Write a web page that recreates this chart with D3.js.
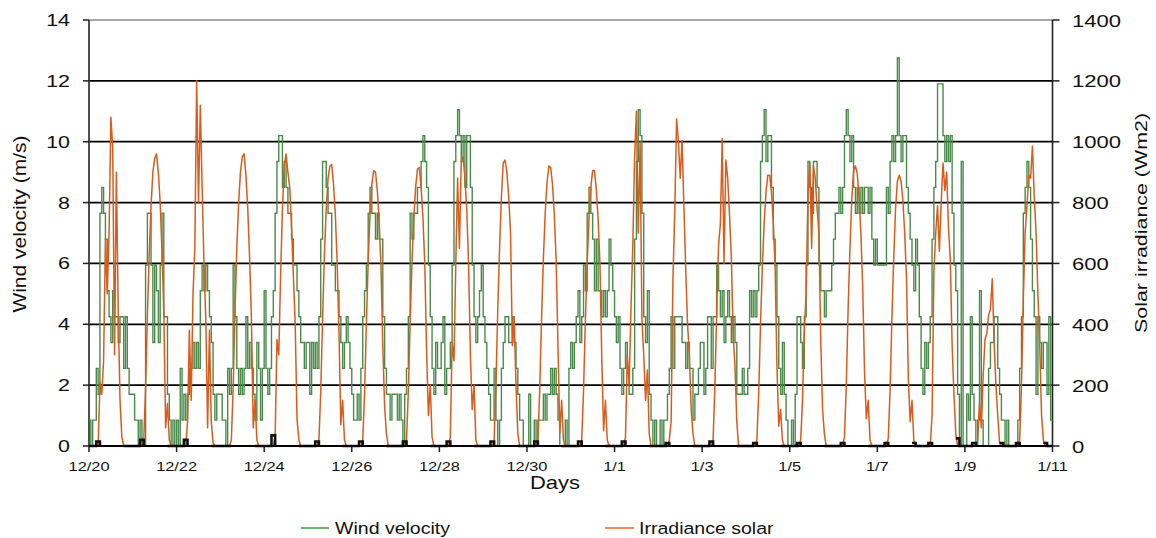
<!DOCTYPE html>
<html><head><meta charset="utf-8">
<script src="https://cdn.jsdelivr.net/npm/d3@7"></script>
<style>
body{margin:0;background:#fff}
svg{display:block}
text{font-family:"Liberation Sans",Arial,sans-serif;fill:#111}
</style>
</head><body>
<svg id="chart" width="1156" height="538"></svg>
<script>
// ---- data (hourly, 12/20 00:00 -> 1/11 00:00) ----
const dateTickLabels = ["12/20","12/22","12/24","12/26","12/28","12/30","1/1","1/3","1/5","1/7","1/9","1/11"];
const windTicks = [0,2,4,6,8,10,12,14];
const solarTicks = [0,200,400,600,800,1000,1200,1400];

const windSpeed = [
 0.85,0,0.85,0.85,2.55,1.7,7.65,8.5,7.65,6.8,5.1,4.25,3.4,5.1,4.25,4.25,3.4,4.25,4.25,2.55,4.25,2.55,1.7,1.7,
 1.7,0.85,0.85,0,0.85,0,0,5.95,7.65,7.65,5.95,3.4,5.95,5.1,3.4,5.95,7.65,4.25,4.25,1.7,0.85,0,0.85,0,
 0.85,0,2.55,0.85,1.7,0.85,1.7,2.55,2.55,3.4,2.55,3.4,2.55,5.1,5.95,5.1,5.95,5.1,4.25,3.4,1.7,0.85,1.7,1.7,
 1.7,0.85,0.85,0,2.55,1.7,2.55,5.95,4.25,2.55,1.7,2.55,1.7,2.55,4.25,2.55,3.4,2.55,1.7,0.85,3.4,2.55,0.85,2.55,
 5.1,2.55,1.7,2.55,4.25,5.1,7.65,9.35,10.2,10.2,8.5,9.35,8.5,7.65,7.65,6.8,5.95,5.95,5.1,4.25,3.4,3.4,2.55,3.4,
 3.4,1.7,3.4,2.55,3.4,2.55,4.25,6.8,9.35,9.35,8.5,7.65,7.65,5.95,5.95,5.1,5.1,4.25,3.4,2.55,3.4,4.25,3.4,2.55,
 1.7,0.85,0.85,1.7,0.85,2.55,4.25,5.1,5.95,7.65,8.5,7.65,7.65,6.8,7.65,6.8,6.8,4.25,2.55,1.7,1.7,0.85,1.7,1.7,
 1.7,0.85,1.7,0.85,0,1.7,2.55,4.25,7.65,6.8,7.65,7.65,8.5,8.5,9.35,10.2,9.35,8.5,5.95,4.25,2.55,1.7,3.4,2.55,
 2.55,3.4,4.25,1.7,2.55,2.55,3.4,5.95,9.35,10.2,11.05,10.2,9.35,10.2,8.5,10.2,10.2,8.5,5.95,4.25,3.4,4.25,5.1,5.95,
 4.25,3.4,2.55,1.7,0.85,0.85,2.55,0.85,0,0.85,2.55,3.4,4.25,4.25,3.4,3.4,4.25,3.4,2.55,1.7,0.85,0.85,0,0,
 0,1.7,0,0,0.85,0,0.85,0.85,0.85,1.7,0.85,1.7,1.7,2.55,1.7,2.55,1.7,0.85,0,0,0,0.85,0,2.55,
 3.4,2.55,3.4,4.25,5.1,3.4,4.25,5.95,5.1,7.65,8.5,7.65,6.8,5.1,6.8,5.1,5.1,4.25,5.1,4.25,5.1,6.8,5.95,5.1,
 4.25,3.4,4.25,2.55,1.7,2.55,3.4,2.55,1.7,1.7,2.55,6.8,9.35,11.05,10.2,7.65,4.25,3.4,5.1,1.7,0.85,0,0.85,0,
 0,0.85,0,0.85,0.85,1.7,2.55,4.25,2.55,4.25,4.25,4.25,4.25,3.4,3.4,2.55,3.4,2.55,2.55,0.85,1.7,1.7,2.55,3.4,
 3.4,1.7,2.55,4.25,4.25,2.55,4.25,4.25,5.95,5.1,4.25,5.1,3.4,4.25,5.1,4.25,3.4,4.25,3.4,1.7,1.7,1.7,2.55,1.7,
 1.7,2.55,5.1,4.25,5.1,4.25,5.1,5.95,9.35,10.2,11.05,9.35,10.2,10.2,8.5,6.8,5.95,4.25,2.55,1.7,3.4,1.7,0.85,0,
 0,0.85,0,1.7,4.25,4.25,3.4,2.55,4.25,5.95,9.35,8.5,7.65,9.35,9.35,8.5,5.95,5.1,5.1,4.25,5.1,5.1,5.1,5.95,
 6.8,7.65,7.65,8.5,7.65,8.5,10.2,11.05,10.2,9.35,10.2,8.5,7.65,8.5,7.65,8.5,7.65,8.5,8.5,7.65,8.5,6.8,5.95,6.8,
 5.95,5.95,5.95,5.95,5.95,8.5,7.65,9.35,10.2,9.35,10.2,12.75,10.2,9.35,10.2,10.2,8.5,7.65,6.8,5.95,5.1,6.8,5.95,4.25,
 2.55,1.7,3.4,2.55,3.4,4.25,6.8,8.5,9.35,11.9,11.9,11.9,10.2,9.35,10.2,9.35,10.2,7.65,5.95,5.1,1.7,0,9.35,0,
 0,1.7,0.85,4.25,1.7,0.85,0,0.85,5.1,0.85,0,0,0,2.55,3.4,3.4,4.25,4.25,2.55,1.7,0.85,0.85,0,0.85,
 0,0,0,0,0,0.85,2.55,4.25,7.65,8.5,9.35,8.5,6.8,5.1,4.25,1.7,4.25,3.4,2.55,3.4,3.4,1.7,4.25,0.85,
 0.85
];

const solarIrradiance = [
 0,0,0,0,0,0,210,170,280,680,500,700,1080,980,300,900,450,150,30,0,0,0,0,0,
 0,0,0,0,0,0,20,190,430,630,790,900,945,960,900,800,640,440,60,140,20,0,0,0,
 0,0,0,0,0,0,80,380,150,500,650,1200,800,1120,850,600,420,60,380,80,10,0,0,0,
 0,0,0,0,0,0,20,190,440,650,800,900,950,960,890,780,620,420,60,150,20,0,0,0,
 0,0,0,0,0,0,30,350,300,560,780,920,960,900,850,720,560,400,90,20,0,0,0,0,
 0,0,0,0,0,0,20,180,420,630,780,880,920,925,860,760,600,370,70,150,20,0,0,0,
 0,0,0,0,0,0,20,170,400,610,760,860,905,900,840,740,590,330,130,40,0,0,0,0,
 0,0,0,0,0,0,20,180,410,605,750,850,910,915,850,750,600,310,100,200,30,0,0,0,
 0,0,0,0,0,0,30,340,280,600,880,650,940,950,880,780,600,300,120,200,20,0,0,0,
 0,0,0,0,0,0,20,200,450,650,820,930,940,900,820,700,330,420,200,40,0,0,0,0,
 0,0,0,0,0,0,20,185,420,615,765,865,920,915,860,760,610,330,40,150,20,0,0,0,
 0,0,0,0,0,0,20,180,410,600,750,850,905,905,845,745,600,290,50,150,20,0,0,0,
 0,0,0,0,0,0,30,300,200,450,660,950,1100,700,1000,420,300,150,250,40,0,0,0,0,
 0,0,0,0,0,0,20,80,550,770,1075,1000,880,1005,790,580,400,300,120,40,0,0,0,0,
 0,0,0,0,0,0,20,200,450,660,730,1010,600,940,880,760,620,370,260,80,0,0,0,0,
 0,0,0,0,0,0,20,175,400,590,735,835,890,890,835,735,590,260,65,120,20,0,0,0,
 0,0,0,0,0,0,20,150,380,500,830,930,650,920,880,780,700,350,120,40,0,0,0,0,
 0,0,0,0,0,0,30,200,450,650,810,905,920,895,820,700,520,240,90,150,20,0,0,0,
 0,0,0,0,0,0,25,185,420,620,780,870,890,870,810,700,550,220,80,150,20,0,0,0,
 0,0,0,0,0,0,100,570,700,790,640,800,930,840,900,720,610,330,170,40,0,0,0,0,
 0,0,0,0,0,0,0,20,140,60,230,350,370,430,450,550,340,200,100,10,0,0,0,0,
 0,0,0,0,0,0,20,200,480,700,790,890,880,985,820,700,500,330,100,20,0,0,0,0,
 0
];

// small black night-time markers (W/m2) at start / end of each night
const nightStartBump = [0,0,0,0,0,0,0,0,0,0,0,0,0,0,0,0,0,0,0,10,25,10,10];
const nightEndBump   = [15,20,20,0,35,15,15,15,15,15,15,15,15,10,15,10,10,10,10,10,10,10,0];

// ---- layout ----
const L = 89, R = 1052.5, T = 20, B = 446;
const totalHours = windSpeed.length - 1;

const svg = d3.select("#chart");
const x = d3.scaleLinear().domain([0, totalHours]).range([L, R]);
const yW = d3.scaleLinear().domain([0, 14]).range([B, T]);
const yS = d3.scaleLinear().domain([0, 1400]).range([B, T]);

function label(g, px, py, s, size, sx, anchor, rot) {
  g.append("text")
   .attr("transform", `translate(${px},${py})` + (rot ? ` rotate(${rot})` : "") + ` scale(${sx},1)`)
   .attr("text-anchor", anchor)
   .style("font-size", size + "px")
   .text(s);
}

// gridlines
const grid = svg.append("g");
windTicks.forEach(v => {
  grid.append("line")
    .attr("x1", L).attr("x2", R).attr("y1", yW(v)).attr("y2", yW(v))
    .attr("stroke", v === 14 ? "#8a8a8a" : "#000")
    .attr("stroke-width", v === 14 ? 1.5 : 1.8);
});

// axes lines
svg.append("line").attr("x1", L).attr("x2", L).attr("y1", T).attr("y2", B).attr("stroke", "#222").attr("stroke-width", 1.6);
svg.append("line").attr("x1", R).attr("x2", R).attr("y1", T).attr("y2", B).attr("stroke", "#222").attr("stroke-width", 1.6);

// left ticks and labels
const axL = svg.append("g");
windTicks.forEach(v => {
  axL.append("line").attr("x1", L - 6).attr("x2", L).attr("y1", yW(v)).attr("y2", yW(v)).attr("stroke", "#222").attr("stroke-width", 1.5);
  label(axL, 70, yW(v) + 6, String(v), 16.5, 1.3, "end");
});
// right ticks and labels
const axR = svg.append("g");
solarTicks.forEach(v => {
  axR.append("line").attr("x1", R).attr("x2", R + 7).attr("y1", yS(v)).attr("y2", yS(v)).attr("stroke", "#222").attr("stroke-width", 1.5);
  label(axR, 1072, yS(v) + 6.5, String(v), 17, 1.3, "start");
});
// bottom ticks and labels
const axB = svg.append("g");
dateTickLabels.forEach((s, i) => {
  const px = x(i * 48);
  axB.append("line").attr("x1", px).attr("x2", px).attr("y1", B).attr("y2", B + 6).attr("stroke", "#222").attr("stroke-width", 1.5);
  label(axB, px, 471, s, 13, 1.26, "middle");
});

// series
const windLine = d3.line().x((d, i) => x(i)).y(d => yW(d)).curve(d3.curveStepAfter);
svg.append("path").datum(windSpeed).attr("d", windLine)
  .attr("fill", "none").attr("stroke", "#4a8a4a").attr("stroke-width", 1.4).attr("stroke-linejoin", "miter");

const solarLine = d3.line().x((d, i) => x(i)).y(d => yS(d));
svg.append("path").datum(solarIrradiance).attr("d", solarLine)
  .attr("fill", "none").attr("stroke", "#da5b1c").attr("stroke-width", 1.5).attr("stroke-linejoin", "round");

// night markers (black)
const nightPts = [];
for (let k = 0; k < nightEndBump.length; k++) {
  const s = k === 0 ? 0 : 24 * k - 5;
  const e = k === nightEndBump.length - 1 ? totalHours : 24 * k + 6;
  for (let h = s; h <= e; h++) {
    let v = 0;
    if (k > 0 && h < s + 2 && nightStartBump[k] > 0) v = nightStartBump[k];
    if (h >= e - 2 && h < e && nightEndBump[k] > 0) v = nightEndBump[k];
    nightPts.push({h, v});
  }
  nightPts.push(null);
}
const nightLine = d3.line().defined(d => d !== null).x(d => x(d.h)).y(d => yS(d.v)).curve(d3.curveStepAfter);
svg.append("path").datum(nightPts).attr("d", nightLine)
  .attr("fill", "none").attr("stroke", "#111").attr("stroke-width", 2.6);

// bottom axis line on top
svg.append("line").attr("x1", L).attr("x2", R).attr("y1", B).attr("y2", B).attr("stroke", "#000").attr("stroke-width", 1.8);

// titles
const titles = svg.append("g");
label(titles, 555, 489, "Days", 18, 1.22, "middle");
label(titles, 26, 224, "Wind velocity (m/s)", 17.5, 1.2, "middle", -90);
label(titles, 1147, 223, "Solar irradiance (Wm2)", 17, 1.26, "middle", -90);

// legend
const leg = svg.append("g");
leg.append("line").attr("x1", 301).attr("x2", 329).attr("y1", 528).attr("y2", 528).attr("stroke", "#3f9a3f").attr("stroke-width", 1.5);
label(leg, 335, 534, "Wind velocity", 17, 1.15, "start");
leg.append("line").attr("x1", 605).attr("x2", 634).attr("y1", 528).attr("y2", 528).attr("stroke", "#e8642a").attr("stroke-width", 1.5);
label(leg, 639, 534, "Irradiance solar", 17, 1.15, "start");
</script>
</body></html>
